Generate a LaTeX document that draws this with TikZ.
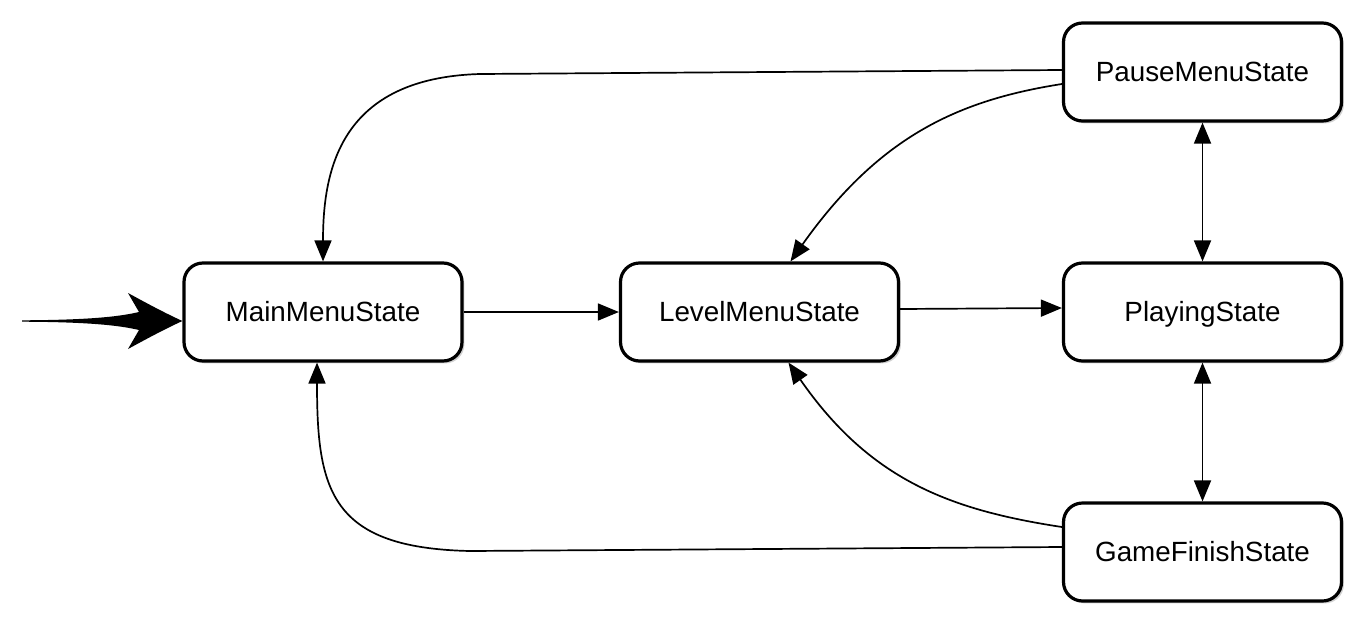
\documentclass[tikz,border=0pt]{standalone}
\usepackage{fontspec}
\setmainfont{Liberation Sans}
\usetikzlibrary{arrows.meta,shadows,calc}
\tikzset{
  state/.style={draw=black, line width=1.6pt, rounded corners=9.5pt, fill=white,
    minimum width=139pt, minimum height=49pt, inner sep=0pt,
    text height=9.9pt, text depth=0pt,
    font=\fontsize{13.9pt}{16pt}\selectfont,
    drop shadow={shadow xshift=1.2pt, shadow yshift=-1.2pt, opacity=0.18, fill=black}},
  conn/.style={draw=black, line width=0.85pt, -{Triangle[length=10.5pt,width=8.5pt]}},
  bconn/.style={draw=black, line width=0.85pt, {Triangle[length=10.5pt,width=8.5pt]}-{Triangle[length=10.5pt,width=8.5pt]}},
}
\begin{document}
\begin{tikzpicture}[x=0.5pt,y=-0.5pt]
\useasboundingbox (0,0) rectangle (1363,621);
\node[state] (main)    at (323,312)  {MainMenuState};
\node[state] (level)   at (759.5,312) {LevelMenuState};
\node[state] (playing) at (1202.5,312) {PlayingState};
\node[state] (pause)   at (1202.5,72) {PauseMenuState};
\node[state] (gf)      at (1202.5,552) {GameFinishState};
% initial arrow
\coordinate (init) at (22,321);
\fill[black] (init) ++(0,-0.7) .. controls (90,320) and (120,316.5) .. (139,312)
  -- (128,293) .. controls (150,305) and (165,313) .. ($(main.west)+(0,9)$)
  .. controls (165,329) and (150,337) .. (128,349)
  -- (139,330) .. controls (120,325.5) and (90,322) .. ($(init)+(0,0.7)$) -- cycle;
% connectors
\draw[conn] (main.east) -- (level.west);
\draw[conn] ($(level.east)+(0,-3)$) -- ($(playing.west)+(0,-4)$);
\draw[bconn] (pause.south) -- (playing.north);
\draw[bconn] (playing.south) -- (gf.north);
\draw[conn] ($(pause.west)+(0,-2)$) -- (480,74) .. controls (340,78) and (323,170) .. (main.north);
\draw[conn] ($(pause.west)+(0,12)$) .. controls (960,100) and (880,135) .. ($(level.north)+(31,0)$);
\draw[conn] ($(gf.west)+(0,-25)$) .. controls (950,510) and (870,480) .. ($(level.south)+(29,0)$);
\draw[conn] ($(gf.west)+(0,-5)$) -- (470,551) .. controls (330,548) and (317,490) .. ($(main.south)+(-6,0)$);
\end{tikzpicture}
\end{document}
